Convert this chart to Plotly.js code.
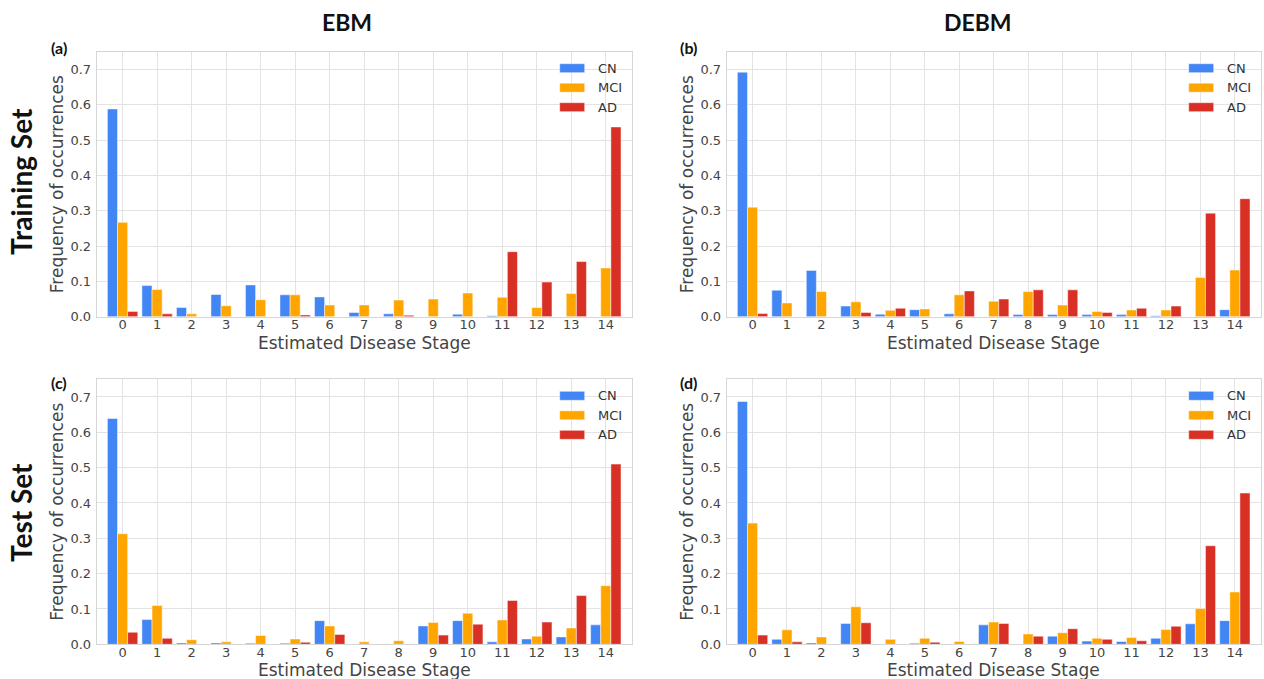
<!DOCTYPE html>
<html>
<head>
<meta charset="utf-8">
<script src="https://cdn.plot.ly/plotly-3.0.1.min.js"></script>
<style>html,body{margin:0;padding:0;background:#fff;}#chart{width:1264px;height:679px;}</style>
</head>
<body>
<div id="chart"></div>
<script>
// ---- data ----
const stages = [0,1,2,3,4,5,6,7,8,9,10,11,12,13,14];
const groups = ["CN", "MCI", "AD"];

// (a) EBM, Training Set
const ebmTrainCN  = [0.588,0.088,0.026,0.063,0.090,0.062,0.056,0.012,0.008,0.000,0.007,0.003,0.000,0.000,0.000];
const ebmTrainMCI = [0.267,0.077,0.008,0.031,0.048,0.062,0.033,0.033,0.047,0.050,0.067,0.055,0.026,0.066,0.138];
const ebmTrainAD  = [0.015,0.008,0.000,0.000,0.000,0.005,0.000,0.000,0.004,0.000,0.000,0.184,0.098,0.156,0.537];

// (b) DEBM, Training Set
const debmTrainCN  = [0.692,0.075,0.131,0.030,0.007,0.020,0.008,0.000,0.006,0.006,0.006,0.006,0.003,0.000,0.020];
const debmTrainMCI = [0.310,0.039,0.071,0.042,0.018,0.022,0.062,0.044,0.071,0.033,0.015,0.019,0.019,0.111,0.132];
const debmTrainAD  = [0.009,0.000,0.000,0.012,0.024,0.000,0.073,0.050,0.076,0.076,0.012,0.024,0.030,0.293,0.334];

// (c) EBM, Test Set
const ebmTestCN  = [0.639,0.070,0.004,0.004,0.003,0.003,0.067,0.000,0.000,0.052,0.067,0.007,0.015,0.021,0.055];
const ebmTestMCI = [0.313,0.110,0.013,0.007,0.025,0.015,0.052,0.007,0.010,0.062,0.088,0.069,0.023,0.046,0.166];
const ebmTestAD  = [0.034,0.017,0.000,0.000,0.000,0.006,0.028,0.000,0.000,0.026,0.057,0.124,0.063,0.138,0.510];

// (d) DEBM, Test Set
const debmTestCN  = [0.687,0.014,0.004,0.059,0.000,0.003,0.000,0.055,0.000,0.023,0.009,0.008,0.017,0.058,0.067];
const debmTestMCI = [0.343,0.041,0.021,0.106,0.014,0.017,0.008,0.063,0.029,0.033,0.017,0.019,0.042,0.101,0.148];
const debmTestAD  = [0.026,0.007,0.000,0.061,0.000,0.006,0.000,0.059,0.023,0.044,0.014,0.010,0.051,0.279,0.428];

const yTicks = [0,0.1,0.2,0.3,0.4,0.5,0.6,0.7];
const columnTitles = ["EBM", "DEBM"];
const rowTitles = ["Training Set", "Test Set"];
const panelLabels = ["(a)", "(b)", "(c)", "(d)"];
const xTitle = "Estimated Disease Stage";
const yTitle = "Frequency of occurrences";

// ---- styling / layout ----
const W = 1264, H = 679;
const colors = ["#4285F4", "#FFA500", "#D93025"];
const px = v => v / W;
const py = v => 1 - v / H;

const panels = [
  {data:[ebmTrainCN, ebmTrainMCI, ebmTrainAD],   l:96.7,  r:631.7,  t:51.7,  b:316.7},
  {data:[debmTrainCN, debmTrainMCI, debmTrainAD], l:726.7, r:1260.7, t:51.7,  b:316.7},
  {data:[ebmTestCN, ebmTestMCI, ebmTestAD],       l:96.7,  r:631.7,  t:379.3, b:644.3},
  {data:[debmTestCN, debmTestMCI, debmTestAD],    l:726.7, r:1260.7, t:379.3, b:644.3}
];

const traces = [];
const layout = {
  width: W, height: H,
  margin: {l:0, r:0, t:0, b:0},
  paper_bgcolor: "#fff", plot_bgcolor: "#fff",
  barmode: "group", bargap: 0.12, bargroupgap: 0,
  showlegend: false,
  font: {family: "DejaVu Sans, sans-serif", color: "#444", size: 13},
  shapes: [], annotations: []
};

panels.forEach((p, i) => {
  const n = i + 1;
  const xa = n === 1 ? "x" : "x" + n;
  const ya = n === 1 ? "y" : "y" + n;
  p.data.forEach((vals, k) => {
    traces.push({
      type: "bar", name: groups[k], x: stages, y: vals,
      xaxis: xa, yaxis: ya,
      marker: {color: colors[k], line: {color: "rgba(255,255,255,0.6)", width: 0.8}},
      hovertemplate: groups[k] + " stage %{x}: %{y}<extra></extra>"
    });
  });
  const axX = {
    domain: [px(p.l), px(p.r)], anchor: ya,
    range: [-0.75, 14.75], tickmode: "array", tickvals: stages,
    showgrid: true, gridcolor: "#e3e3e3", gridwidth: 1, zeroline: false,
    showline: true, mirror: true, linecolor: "#d6d6d6", linewidth: 1,
    ticks: "", tickfont: {size: 13, color: "#444"}, ticklabelstandoff: -4
  };
  const axY = {
    domain: [py(p.b), py(p.t)], anchor: xa,
    range: [0, 0.75], tickmode: "array", tickvals: yTicks, tickformat: ".1f",
    showgrid: true, gridcolor: "#e3e3e3", gridwidth: 1, zeroline: false,
    showline: true, mirror: true, linecolor: "#d6d6d6", linewidth: 1,
    ticks: "", tickfont: {size: 13, color: "#444"}, ticklabelstandoff: 2,
    title: {text: yTitle, font: {size: 17, color: "#444"}, standoff: 2}
  };
  layout[n === 1 ? "xaxis" : "xaxis" + n] = axX;
  layout[n === 1 ? "yaxis" : "yaxis" + n] = axY;

  // x-axis title (placed as annotation so it stays inside the page)
  layout.annotations.push({
    text: xTitle, xref: "paper", yref: "paper",
    x: px((p.l + p.r) / 2), y: py(p.b + 26), xanchor: "center", yanchor: "middle",
    showarrow: false, font: {size: 17, color: "#444"}
  });

  // panel label
  layout.annotations.push({
    text: "<b>" + panelLabels[i] + "</b>", xref: "paper", yref: "paper",
    x: px(p.l - 38), y: py(p.t - (i < 2 ? 4 : -3)), xanchor: "center", yanchor: "middle",
    showarrow: false, font: {family: "Lato, Open Sans, sans-serif", size: 16, color: "#111"}
  });

  // legend (custom, matplotlib-style wide swatches)
  groups.forEach((g, k) => {
    const cy = p.t + 16.5 + 19.5 * k;
    layout.shapes.push({
      type: "rect", xref: "paper", yref: "paper",
      x0: px(p.r - 72), x1: px(p.r - 47), y0: py(cy + 4.5), y1: py(cy - 4.5),
      fillcolor: colors[k], line: {color: "rgba(255,255,255,0.6)", width: 0.8}
    });
    layout.annotations.push({
      text: g, xref: "paper", yref: "paper",
      x: px(p.r - 36), y: py(cy), xanchor: "left", yanchor: "middle",
      showarrow: false, font: {size: 13, color: "#333"}
    });
  });
});

// column titles
[347, 978].forEach((cx, j) => {
  layout.annotations.push({
    text: "<b>" + columnTitles[j] + "</b>", xref: "paper", yref: "paper",
    x: px(cx), y: py(22), xanchor: "center", yanchor: "middle", showarrow: false,
    font: {family: "Lato, Open Sans, sans-serif", size: 23, color: "#111"}
  });
});
// row titles
[182, 512].forEach((cy, j) => {
  layout.annotations.push({
    text: "<b>" + rowTitles[j] + "</b>", xref: "paper", yref: "paper",
    x: px(21), y: py(cy), xanchor: "center", yanchor: "middle", showarrow: false,
    textangle: -90,
    font: {family: "Lato, Open Sans, sans-serif", size: 28, color: "#111"}
  });
});

Plotly.newPlot("chart", traces, layout, {displayModeBar: false, staticPlot: true});
</script>
</body>
</html>
